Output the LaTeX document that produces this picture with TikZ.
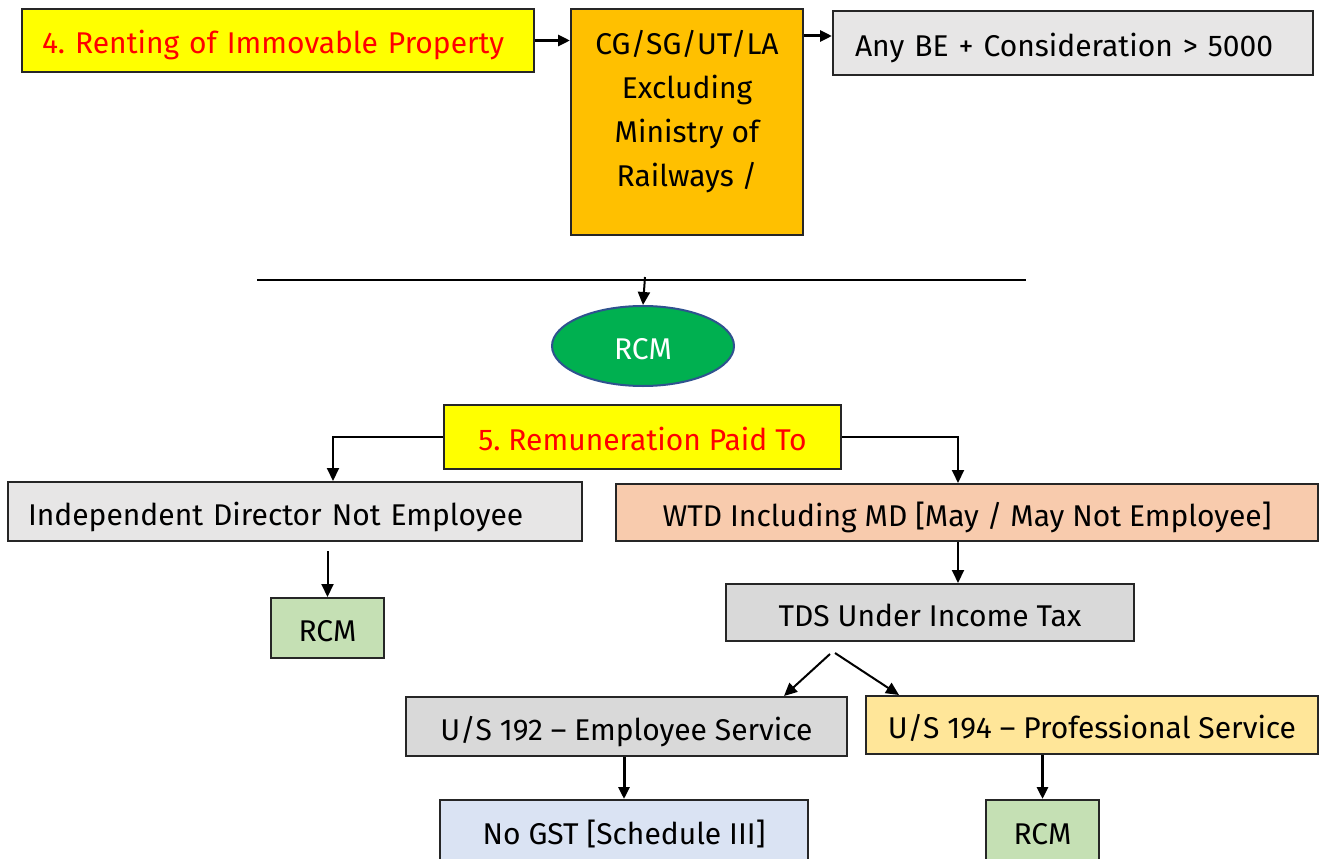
\documentclass[tikz,border=0pt]{standalone}
\usepackage{fontspec}
\setmainfont{Fira Sans}
\usetikzlibrary{shapes.geometric,arrows.meta}
\definecolor{cyel}{HTML}{FFFF00}
\definecolor{cred}{HTML}{FF0000}
\definecolor{corg}{HTML}{FFC000}
\definecolor{clg}{HTML}{E7E6E6}
\definecolor{cdg}{HTML}{D9D9D9}
\definecolor{cgrn}{HTML}{00B050}
\definecolor{cblu}{HTML}{2F528F}
\definecolor{cpch}{HTML}{F8CBAD}
\definecolor{cgld}{HTML}{FFE699}
\definecolor{cpbl}{HTML}{DAE3F3}
\definecolor{cmnt}{HTML}{C5E0B4}
\frenchspacing
\begin{document}
\begin{tikzpicture}[x=1pt,y=-1pt,
  every node/.style={font=\fontsize{30}{34}\selectfont},
  bx/.style={draw=black!85, line width=2pt, inner sep=0pt, minimum height=#1, text height=29pt, text depth=2pt},
  bx/.default=59,
  arr/.style={-{Triangle[length=13pt,width=12pt]}, line width=2pt},
  tarr/.style={-{Triangle[length=12pt,width=11pt]}, line width=3pt}]
\useasboundingbox (0,0) rectangle (1320,859);
% top row
\node[bx=63, fill=cyel, text=cred, text width=472, align=left, inner xsep=20pt] (b1) at (278,40.5) {4. Renting of Immovable Property};
\node[bx, fill=corg, minimum width=232, minimum height=226] (b2) at (687,122) {};
\node[align=center, font=\fontsize{30}{44}\selectfont, inner sep=0pt] (b2t) at (687,112) {CG/SG/UT/LA\\Excluding\\Ministry of\\Railways /};
\node[bx=64, fill=clg, text width=436, align=left, inner xsep=22pt] (b3) at (1073,43) {Any BE + Consideration > 5000};
\draw[tarr] (b1.east) -- (b2.west |- b1.east);
\coordinate (y36) at (0,36);
\draw[tarr] (b2.east |- y36) -- (b3.west |- y36);
% line and RCM ellipse
\coordinate (l1) at (257,280);
\coordinate (l2) at (1026,280);
\coordinate (lm) at (645,277);
\draw[line width=2pt] (l1) -- (l2);
\node[ellipse, draw=cblu, line width=2pt, fill=cgrn, text=white, minimum width=182, minimum height=80, inner sep=0pt, text height=29pt, text depth=2pt] (e1) at (643,346) {RCM};
\draw[arr] (lm) -- (e1.north);
% remuneration
\node[bx=64, fill=cyel, text=cred, minimum width=397] (b5) at (642.5,437) {5. Remuneration Paid To};
\coordinate (c1) at (333,0);
\coordinate (c2) at (958,0);
\node[bx, fill=clg, text width=534, align=left, inner xsep=20pt] (ind) at (295,511.5) {Independent Director Not Employee};
\node[bx=57, fill=cpch, minimum width=702] (wtd) at (967,512.5) {WTD Including MD [May / May Not Employee]};
\draw[arr] (b5.west) -| (ind.north -| c1);
\draw[arr] (b5.east) -| (wtd.north -| c2);
\node[bx=60, fill=cmnt, minimum width=113] (r2) at (327.5,628) {RCM};
\draw[arr] ([yshift=-9pt]r2.north |- ind.south) -- (r2.north);
\node[bx=57, fill=cdg, minimum width=408] (tds) at (930,612.5) {TDS Under Income Tax};
\draw[arr] (wtd.south -| c2) -- (tds.north -| c2);
% 192 / 194
\node[bx, fill=cdg, minimum width=441] (u2) at (626.5,726.5) {U/S 192 – Employee Service};
\node[bx=58, fill=cgld, minimum width=452] (u4) at (1092,725) {U/S 194 – Professional Service};
\coordinate (s1) at (830,654);
\coordinate (s2) at (835,653);
\coordinate (e2) at (784,0);
\coordinate (e4) at (899,0);
\draw[arr] (s1) -- (u2.north -| e2);
\draw[arr] (s2) -- (u4.north -| e4);
\node[bx=62, fill=cpbl, minimum width=368] (ng) at (624,831) {No GST [Schedule III]};
\node[bx=62, fill=cmnt, minimum width=113] (r3) at (1042.5,831) {RCM};
\draw[tarr] (u2.south -| ng.north) -- (ng.north);
\draw[tarr] (u4.south -| r3.north) -- (r3.north);
\end{tikzpicture}
\end{document}
